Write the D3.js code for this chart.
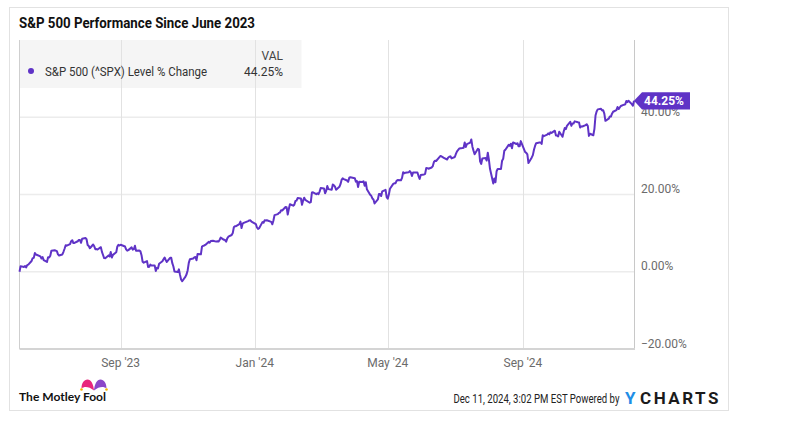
<!DOCTYPE html>
<html>
<head>
<meta charset="utf-8">
<script src="https://cdn.jsdelivr.net/npm/d3@7"></script>
<style>
  html, body { margin: 0; padding: 0; background: #ffffff; }
  svg { display: block; font-family: Roboto, "Noto Sans", sans-serif; }
</style>
</head>
<body>
<svg id="chart" width="791" height="430"></svg>
<script>
// ---------- DATA ----------
const chartTitle = "S&P 500 Performance Since June 2023";
const seriesName = "S&P 500 (^SPX) Level % Change";
const lastValueLabel = "44.25%";
const yTicks = [-20, 0, 20, 40];
const xTickDates = ["2023-09-01", "2024-01-01", "2024-05-01", "2024-09-01"];
const xTickLabels = ["Sep '23", "Jan '24", "May '24", "Sep '24"];
const footerText = "Dec 11, 2024, 3:02 PM EST Powered by";

const dates2023 = [
 "2023-06-01","2023-06-02","2023-06-05","2023-06-06","2023-06-07","2023-06-08","2023-06-09","2023-06-12","2023-06-13","2023-06-14",
 "2023-06-15","2023-06-16","2023-06-20","2023-06-21","2023-06-22","2023-06-23","2023-06-26","2023-06-27","2023-06-28","2023-06-29",
 "2023-06-30","2023-07-03","2023-07-05","2023-07-06","2023-07-07","2023-07-10","2023-07-11","2023-07-12","2023-07-13","2023-07-14",
 "2023-07-17","2023-07-18","2023-07-19","2023-07-20","2023-07-21","2023-07-24","2023-07-25","2023-07-26","2023-07-27","2023-07-28",
 "2023-07-31","2023-08-01","2023-08-02","2023-08-03","2023-08-04","2023-08-07","2023-08-08","2023-08-09","2023-08-10","2023-08-11",
 "2023-08-14","2023-08-15","2023-08-16","2023-08-17","2023-08-18","2023-08-21","2023-08-22","2023-08-23","2023-08-24","2023-08-25",
 "2023-08-28","2023-08-29","2023-08-30","2023-08-31","2023-09-01","2023-09-05","2023-09-06","2023-09-07","2023-09-08","2023-09-11",
 "2023-09-12","2023-09-13","2023-09-14","2023-09-15","2023-09-18","2023-09-19","2023-09-20","2023-09-21","2023-09-22","2023-09-25",
 "2023-09-26","2023-09-27","2023-09-28","2023-09-29","2023-10-02","2023-10-03","2023-10-04","2023-10-05","2023-10-06","2023-10-09",
 "2023-10-10","2023-10-11","2023-10-12","2023-10-13","2023-10-16","2023-10-17","2023-10-18","2023-10-19","2023-10-20","2023-10-23",
 "2023-10-24","2023-10-25","2023-10-26","2023-10-27","2023-10-30","2023-10-31","2023-11-01","2023-11-02","2023-11-03","2023-11-06",
 "2023-11-07","2023-11-08","2023-11-09","2023-11-10","2023-11-13","2023-11-14","2023-11-15","2023-11-16","2023-11-17","2023-11-20",
 "2023-11-21","2023-11-22","2023-11-24","2023-11-27","2023-11-28","2023-11-29","2023-11-30","2023-12-01","2023-12-04","2023-12-05",
 "2023-12-06","2023-12-07","2023-12-08","2023-12-11","2023-12-12","2023-12-13","2023-12-14","2023-12-15","2023-12-18","2023-12-19",
 "2023-12-20","2023-12-21","2023-12-22","2023-12-26","2023-12-27","2023-12-28","2023-12-29"
];
const values2023 = [
 0.00,1.45,1.25,1.49,1.10,1.73,1.84,2.79,3.51,3.59,
 4.85,4.47,3.97,3.43,3.81,3.02,2.55,3.73,3.69,4.16,
 5.43,5.56,5.35,4.51,4.22,4.47,5.17,5.95,6.85,6.74,
 7.15,7.91,8.17,7.43,7.47,7.90,8.21,8.19,7.50,8.56,
 8.72,8.43,6.93,6.65,6.09,7.05,6.59,5.84,5.87,5.76,
 6.36,5.14,4.34,3.54,3.52,4.23,3.94,5.09,3.68,4.38,
 5.03,6.55,6.96,6.79,6.98,6.53,5.79,5.45,5.60,6.31,
 5.71,5.84,6.73,5.43,5.51,5.28,4.29,2.58,2.35,2.76,
 1.24,1.27,1.86,1.59,1.59,0.20,1.01,0.88,2.07,2.72,
 3.25,3.69,3.05,2.53,3.62,3.61,2.22,1.35,0.07,-0.09,
 0.63,-0.81,-1.99,-2.46,-1.28,-0.64,0.40,2.29,3.25,3.43,
 3.73,3.83,2.99,4.60,4.51,6.51,6.68,6.80,6.94,7.73,
 7.51,7.95,8.01,7.80,7.91,7.81,8.22,8.85,8.26,8.20,
 7.78,8.64,9.08,9.51,10.01,11.51,11.81,11.80,12.31,12.97,
 11.31,12.46,12.64,13.12,13.28,13.32,13.00
];

const dates2024 = [
 "2024-01-02","2024-01-03","2024-01-04","2024-01-05","2024-01-08","2024-01-09","2024-01-10","2024-01-11","2024-01-12","2024-01-16",
 "2024-01-17","2024-01-18","2024-01-19","2024-01-22","2024-01-23","2024-01-24","2024-01-25","2024-01-26","2024-01-29","2024-01-30",
 "2024-01-31","2024-02-01","2024-02-02","2024-02-05","2024-02-06","2024-02-07","2024-02-08","2024-02-09","2024-02-12","2024-02-13",
 "2024-02-14","2024-02-15","2024-02-16","2024-02-20","2024-02-21","2024-02-22","2024-02-23","2024-02-26","2024-02-27","2024-02-28",
 "2024-02-29","2024-03-01","2024-03-04","2024-03-05","2024-03-06","2024-03-07","2024-03-08","2024-03-11","2024-03-12","2024-03-13",
 "2024-03-14","2024-03-15","2024-03-18","2024-03-19","2024-03-20","2024-03-21","2024-03-22","2024-03-25","2024-03-26","2024-03-27",
 "2024-03-28","2024-04-01","2024-04-02","2024-04-03","2024-04-04","2024-04-05","2024-04-08","2024-04-09","2024-04-10","2024-04-11",
 "2024-04-12","2024-04-15","2024-04-16","2024-04-17","2024-04-18","2024-04-19","2024-04-22","2024-04-23","2024-04-24","2024-04-25",
 "2024-04-26","2024-04-29","2024-04-30","2024-05-01","2024-05-02","2024-05-03","2024-05-06","2024-05-07","2024-05-08","2024-05-09",
 "2024-05-10","2024-05-13","2024-05-14","2024-05-15","2024-05-16","2024-05-17","2024-05-20","2024-05-21","2024-05-22","2024-05-23",
 "2024-05-24","2024-05-28","2024-05-29","2024-05-30","2024-05-31","2024-06-03","2024-06-04","2024-06-05","2024-06-06","2024-06-07",
 "2024-06-10","2024-06-11","2024-06-12","2024-06-13","2024-06-14","2024-06-17","2024-06-18","2024-06-20","2024-06-21","2024-06-24",
 "2024-06-25","2024-06-26","2024-06-27","2024-06-28","2024-07-01","2024-07-02","2024-07-03","2024-07-05","2024-07-08","2024-07-09",
 "2024-07-10","2024-07-11","2024-07-12","2024-07-15","2024-07-16","2024-07-17","2024-07-18","2024-07-19","2024-07-22","2024-07-23",
 "2024-07-24","2024-07-25","2024-07-26","2024-07-29","2024-07-30","2024-07-31","2024-08-01","2024-08-02","2024-08-05","2024-08-06",
 "2024-08-07","2024-08-08","2024-08-09","2024-08-12","2024-08-13","2024-08-14","2024-08-15","2024-08-16","2024-08-19","2024-08-20",
 "2024-08-21","2024-08-22","2024-08-23","2024-08-26","2024-08-27","2024-08-28","2024-08-29","2024-08-30","2024-09-03","2024-09-04",
 "2024-09-05","2024-09-06","2024-09-09","2024-09-10","2024-09-11","2024-09-12","2024-09-13","2024-09-16","2024-09-17","2024-09-18",
 "2024-09-19","2024-09-20","2024-09-23","2024-09-24","2024-09-25","2024-09-26","2024-09-27","2024-09-30","2024-10-01","2024-10-02",
 "2024-10-03","2024-10-04","2024-10-07","2024-10-08","2024-10-09","2024-10-10","2024-10-11","2024-10-14","2024-10-15","2024-10-16",
 "2024-10-17","2024-10-18","2024-10-21","2024-10-22","2024-10-23","2024-10-24","2024-10-25","2024-10-28","2024-10-29","2024-10-30",
 "2024-10-31","2024-11-01","2024-11-04","2024-11-05","2024-11-06","2024-11-07","2024-11-08","2024-11-11","2024-11-12","2024-11-13",
 "2024-11-14","2024-11-15","2024-11-18","2024-11-19","2024-11-20","2024-11-21","2024-11-22","2024-11-25","2024-11-26","2024-11-27",
 "2024-11-29","2024-12-02","2024-12-03","2024-12-04","2024-12-05","2024-12-06","2024-12-09","2024-12-10","2024-12-11"
];
const values2024 = [
 12.36,11.46,11.08,11.28,12.85,12.69,13.32,13.25,13.33,12.91,
 12.28,13.27,14.66,14.91,15.25,15.34,15.95,15.87,16.75,16.68,
 14.80,16.23,17.47,17.10,17.37,18.34,18.41,19.09,18.97,17.35,
 18.47,19.16,18.59,17.87,18.02,20.52,20.56,20.10,20.31,20.11,
 20.74,21.70,21.56,20.32,20.94,22.18,21.39,21.25,22.61,22.37,
 22.02,21.23,21.99,22.68,23.78,24.18,24.00,23.62,23.28,24.34,
 24.48,24.23,23.33,23.47,21.94,23.29,23.25,23.43,22.26,23.17,
 21.38,19.92,19.67,18.98,18.72,17.68,18.71,20.13,20.15,19.60,
 20.82,21.21,19.30,18.89,19.98,21.48,22.74,22.90,22.90,23.53,
 23.73,23.70,24.30,25.76,25.49,25.64,25.75,26.07,25.73,24.80,
 25.67,25.70,24.78,24.03,25.03,25.17,25.36,26.84,26.82,26.67,
 27.00,27.35,28.43,28.73,28.68,29.66,29.99,29.66,29.46,29.06,
 29.57,29.77,29.89,29.36,29.71,30.51,31.18,31.89,32.03,32.12,
 33.47,32.30,33.03,33.41,34.26,32.39,31.36,30.42,31.83,31.62,
 28.57,27.91,29.33,29.44,28.79,30.83,29.04,26.66,22.87,24.14,
 23.18,26.02,26.61,26.61,28.75,29.24,31.32,31.59,32.86,32.60,
 33.16,31.97,33.49,33.07,33.28,32.48,32.48,33.82,30.99,30.78,
 30.38,28.13,29.61,30.19,31.58,32.57,33.29,33.45,33.49,33.10,
 35.36,35.10,35.48,35.82,35.57,36.11,35.94,36.52,35.25,35.26,
 35.04,36.25,34.94,36.25,37.22,36.93,37.76,38.82,37.77,38.41,
 38.39,38.94,38.69,38.62,37.35,37.64,37.60,37.96,38.19,37.73,
 35.17,35.72,35.34,37.00,40.46,41.51,42.04,42.18,41.77,41.80,
 40.94,39.08,39.63,40.18,40.18,40.93,41.42,41.85,42.66,42.12,
 42.91,43.26,43.33,44.19,43.92,44.28,43.40,42.97,44.25
];

// ---------- SETUP ----------
const parse = d3.timeParse("%Y-%m-%d");
const dates = dates2023.concat(dates2024);
const values = values2023.concat(values2024);
const data = dates.map((d, i) => ({ date: parse(d), value: values[i] }));

const lineColor = "#5f33c6";
const svg = d3.select("#chart");

const plot = { left: 19.5, right: 634, top: 40, bottom: 349 };

const x = d3.scaleTime()
  .domain([parse("2023-06-01"), parse("2024-12-11")])
  .range([plot.left, plot.right]);
const y = d3.scaleLinear()
  .domain([-20, 60])
  .range([plot.bottom, plot.top]);

// Card
svg.append("rect")
  .attr("x", 9.5).attr("y", 7.5).attr("width", 719).attr("height", 403)
  .attr("fill", "#ffffff").attr("stroke", "#e2e2e2").attr("stroke-width", 1);

// Title
svg.append("text")
  .attr("x", 19).attr("y", 28.3)
  .attr("font-size", 14).attr("font-weight", 700).attr("fill", "#111")
  .attr("textLength", 236).attr("lengthAdjust", "spacingAndGlyphs")
  .text(chartTitle);

// Legend background
svg.append("rect")
  .attr("x", plot.left).attr("y", plot.top).attr("width", 282).attr("height", 48)
  .attr("fill", "#f5f5f5");

// Horizontal gridlines
svg.append("g").selectAll("line")
  .data(yTicks.filter(t => t > -20))
  .join("line")
  .attr("x1", plot.left).attr("x2", plot.right)
  .attr("y1", d => y(d)).attr("y2", d => y(d))
  .attr("stroke", "#ececec").attr("stroke-width", 1.5);

// Vertical gridlines
const xTicks = xTickDates.map(parse);
svg.append("g").selectAll("line")
  .data(xTicks)
  .join("line")
  .attr("x1", d => Math.round(x(d)) + 0.5).attr("x2", d => Math.round(x(d)) + 0.5)
  .attr("y1", plot.top).attr("y2", plot.bottom)
  .attr("stroke", "#e2e2e2").attr("stroke-width", 1);

// Left & right frame lines
svg.append("line")
  .attr("x1", plot.left).attr("x2", plot.left).attr("y1", plot.top).attr("y2", plot.bottom)
  .attr("stroke", "#cfcfcf").attr("stroke-width", 1);
svg.append("line")
  .attr("x1", plot.right + 0.5).attr("x2", plot.right + 0.5).attr("y1", plot.top).attr("y2", plot.bottom)
  .attr("stroke", "#c8c8c8").attr("stroke-width", 1);
// Bottom axis line
svg.append("line")
  .attr("x1", plot.left).attr("x2", plot.right + 1).attr("y1", plot.bottom).attr("y2", plot.bottom)
  .attr("stroke", "#d4d4d4").attr("stroke-width", 2);

// Legend content
svg.append("text")
  .attr("x", 283).attr("y", 60).attr("text-anchor", "end")
  .attr("font-size", 12).attr("fill", "#444").text("VAL");
svg.append("circle")
  .attr("cx", 31).attr("cy", 71).attr("r", 3).attr("fill", lineColor);
svg.append("text")
  .attr("x", 45).attr("y", 75.5)
  .attr("font-size", 12).attr("fill", "#333")
  .attr("textLength", 162).attr("lengthAdjust", "spacingAndGlyphs")
  .text(seriesName);
svg.append("text")
  .attr("x", 283).attr("y", 75.5).attr("text-anchor", "end")
  .attr("font-size", 12).attr("fill", "#333").text(lastValueLabel);

// Line
const line = d3.line()
  .x(d => x(d.date))
  .y(d => y(d.value));
svg.append("path")
  .datum(data)
  .attr("d", line)
  .attr("fill", "none")
  .attr("stroke", lineColor)
  .attr("stroke-width", 2)
  .attr("stroke-linejoin", "round");

// Y axis labels (right)
svg.append("g").selectAll("text")
  .data(yTicks)
  .join("text")
  .attr("x", 641)
  .attr("y", d => y(d) - 1.5)
  .attr("font-size", 12).attr("fill", "#6b6b6b")
  .text(d => d3.format(".2f")(d) + "%");

// X axis labels
svg.append("g").selectAll("text")
  .data(xTicks)
  .join("text")
  .attr("x", d => x(d))
  .attr("y", 366.5)
  .attr("text-anchor", "middle")
  .attr("font-size", 12).attr("fill", "#6b6b6b")
  .text((d, i) => xTickLabels[i]);

// Last value tag
const lastPt = data[data.length - 1];
const ty = y(lastPt.value);
const tx = x(lastPt.date);
svg.append("path")
  .attr("d", `M${tx},${ty} L${tx + 8},${ty - 8.7} L690,${ty - 8.7} L690,${ty + 8.7} L${tx + 8},${ty + 8.7} Z`)
  .attr("fill", lineColor);
svg.append("text")
  .attr("x", 644).attr("y", ty + 4.3)
  .attr("font-size", 12).attr("font-weight", 700).attr("fill", "#ffffff")
  .text(lastValueLabel);

// Footer: Motley Fool logo
const logo = svg.append("g");
logo.append("path")
  .attr("d", "M94,390.5 C93.5,384 91,379.5 87.5,379.5 C84,379.5 81.5,383 81.5,388.5 C84.5,386 89,386.5 94,390.5 Z")
  .attr("fill", "#e8267d");
logo.append("path")
  .attr("d", "M94,390.5 C94.5,384 97,379.5 100.5,379.5 C104,379.5 106.5,383 106.5,388.5 C103.5,386 99,386.5 94,390.5 Z")
  .attr("fill", "#8b46c9");
logo.append("circle").attr("cx", 81.5).attr("cy", 389.5).attr("r", 1.3).attr("fill", "#f4b400");
logo.append("circle").attr("cx", 106.5).attr("cy", 389.5).attr("r", 1.3).attr("fill", "#f4b400");
logo.append("text")
  .attr("x", 19).attr("y", 400.5)
  .attr("font-family", "Lato, Inter, sans-serif")
  .attr("font-size", 12).attr("font-weight", 700).attr("fill", "#111")
  .attr("textLength", 87).attr("lengthAdjust", "spacingAndGlyphs")
  .text("The Motley Fool");

// Footer: timestamp (horizontally condensed to fit width 166)
const foot = svg.append("text")
  .attr("x", 0).attr("y", 0)
  .attr("font-size", 12).attr("fill", "#222")
  .text(footerText);
const footW = foot.node().getComputedTextLength();
const footScale = Math.min(1, 166 / footW);
foot.attr("transform", `translate(453.5,402.5) scale(${footScale},1)`);

// YCharts wordmark
svg.append("text")
  .attr("x", 625).attr("y", 404)
  .attr("font-size", 17).attr("font-weight", 700).attr("fill", "#1f8ee6")
  .text("Y");
const ch = svg.append("text")
  .attr("x", 640).attr("y", 404)
  .attr("font-size", 17).attr("font-weight", 700).attr("fill", "#1b1b1b")
  .text("CHARTS");
const chW = ch.node().getComputedTextLength();
ch.attr("letter-spacing", Math.max(0, (81 - chW) / 6));
</script>
</body>
</html>
